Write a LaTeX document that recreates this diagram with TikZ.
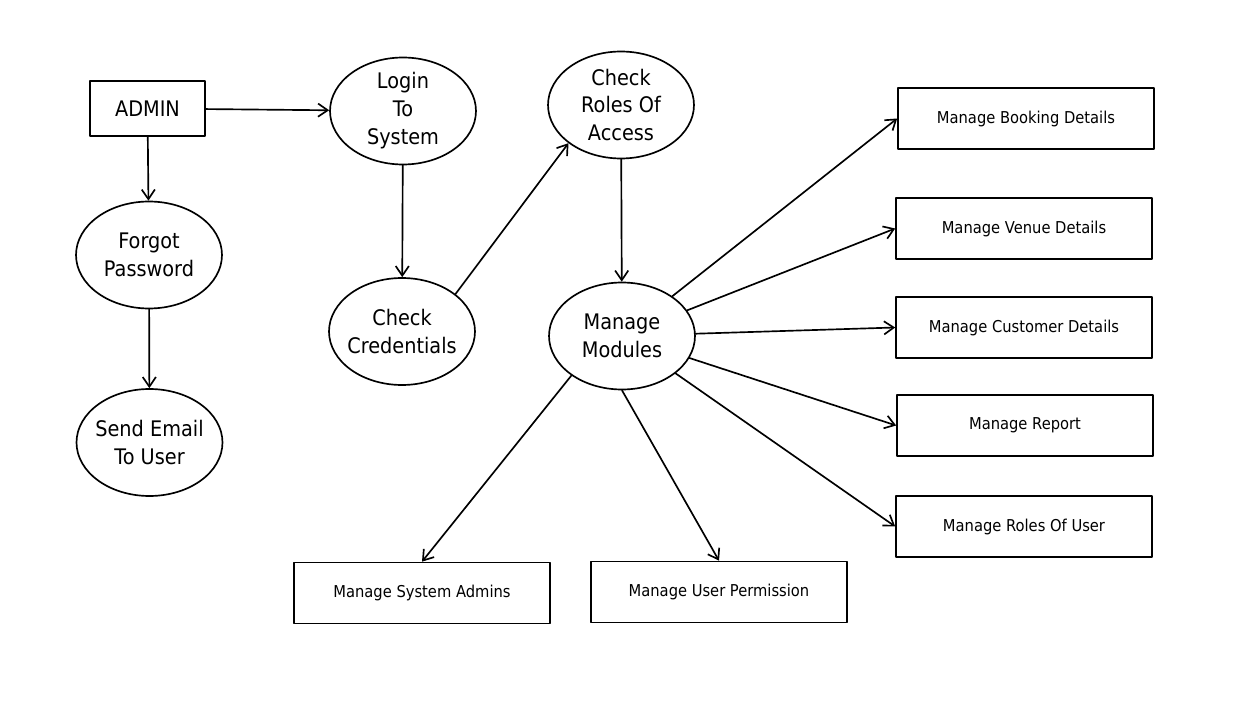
\documentclass[tikz,border=0pt]{standalone}
\usepackage{fontspec}
\setmainfont{DejaVu Sans}[FakeStretch=0.9]
\usetikzlibrary{shapes.geometric,arrows.meta}
\begin{document}
\begin{tikzpicture}[x=0.02cm,y=-0.02cm,>={Straight Barb[length=5.5pt,width=7.5pt]}, line width=0.95pt, line join=round, line cap=round]
	\tikzset{proc/.style={draw,ellipse,minimum width=2.92cm,minimum height=2.14cm,inner xsep=-20pt,inner ysep=-12pt,align=center,font=\fontsize{12.2}{15.9}\selectfont},
		entity/.style={draw,rectangle,minimum width=5.12cm,minimum height=1.22cm,inner sep=0pt,font=\fontsize{9.3}{11}\selectfont}}
	\useasboundingbox (0,0) rectangle (1245,716);
	% left column
	\node[draw,minimum width=2.3cm,minimum height=1.1cm,inner sep=0pt,font=\fontsize{12.2}{15}\selectfont] (admin) at (147.5,108.5) {ADMIN};
	\node[proc] (forgot) at (149,255) {Forgot\\Password};
	\node[proc] (email) at (149.5,442.5) {Send Email\\To User};
	% login chain
	\node[proc] (login) at (403,111) {Login\\To\\System};
	\node[proc] (cred) at (402,331.5) {Check\\Credentials};
	\node[proc] (roles) at (621,105) {Check\\Roles Of\\Access};
	\node[proc] (modules) at (622,336) {Manage\\Modules};
	% modules
	\node[entity] (booking) at (1026,118.5) {Manage Booking Details};
	\node[entity] (venue) at (1024,228.5) {Manage Venue Details};
	\node[entity] (customer) at (1024,327.5) {Manage Customer Details};
	\node[entity] (report) at (1025,425.5) {Manage Report};
	\node[entity] (userroles) at (1024,526.5) {Manage Roles Of User};
	\node[entity] (sysadmins) at (422,593) {Manage System Admins};
	\node[entity] (permission) at (719,592) {Manage User Permission};
	% connectors
	\draw[->] (admin) -- (login);
	\draw[->] (admin) -- (forgot);
	\draw[->] (forgot) -- (email);
	\draw[->] (login) -- (cred);
	\draw[->] (cred.35) -- (roles.216);
	\draw[->] (roles) -- (modules);
	\foreach \m in {booking,venue,customer,report,userroles}
	\draw[->] (modules) -- (\m.west);
	\draw[->] (modules.218) -- (sysadmins.north);
	\draw[->] (modules.south) -- (permission.north);
\end{tikzpicture}
\end{document}
